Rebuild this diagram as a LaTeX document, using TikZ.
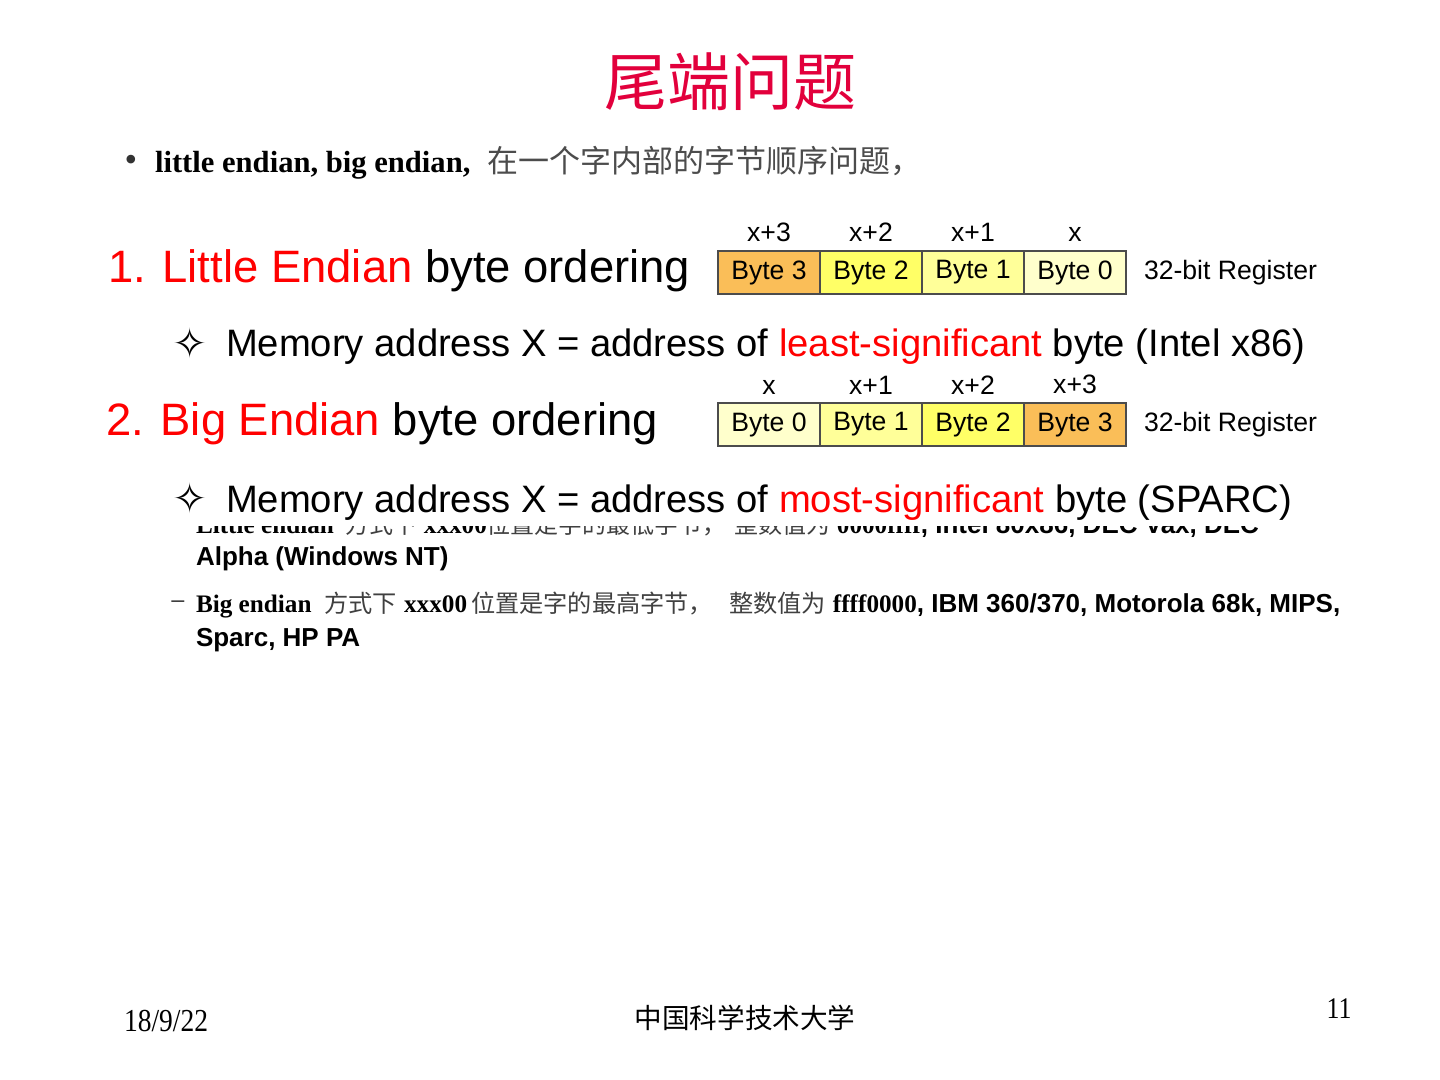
\documentclass[tikz,border=0pt]{standalone}
\usepackage{fontspec}
\setmainfont{Liberation Serif}
\newfontfamily\arialfont{Liberation Sans}
\newfontfamily\cjk{Noto Sans CJK SC}
\newfontfamily\symfont{DejaVu Sans}
\newfontfamily\footserif[FakeStretch=0.86]{Liberation Serif}
\usepackage{tikz}
\usetikzlibrary{positioning}

\definecolor{titlered}{RGB}{226,0,60}
\definecolor{slidered}{RGB}{255,0,0}
\definecolor{byteorange}{RGB}{250,190,88}
\definecolor{byteyellow}{RGB}{255,255,102}
\definecolor{bytelight}{RGB}{255,255,153}
\definecolor{bytepale}{RGB}{255,255,204}

\begin{document}
\begin{tikzpicture}[x=0.5pt, y=-0.5pt,
    every node/.style={inner sep=0pt, outer sep=0pt},
    cell/.style={draw=black!70, line width=0.8pt, minimum width=51pt, minimum height=21.5pt,
      font=\arialfont\fontsize{13.3}{16}\selectfont},
    addr/.style={font=\arialfont\fontsize{13.3}{16}\selectfont},
    heading/.style={anchor=base west, font=\arialfont\fontsize{22.7}{28}\selectfont},
    memline/.style={anchor=base west, font=\arialfont\fontsize{19.1}{23}\selectfont},
    star/.style={font=\symfont\fontsize{21}{24}\selectfont},
    subline/.style={anchor=base west, font=\arialfont\bfseries\fontsize{13}{15}\selectfont}]
  \useasboundingbox[fill=white] (0,0) rectangle (1440,1080);

  % Title and intro
  \node[font=\cjk\fontsize{31.5}{36}\selectfont, text=titlered] (title) at (730,82) {尾端问题};
  \node[font=\fontsize{18}{20}\selectfont, text=black!80] (dot) at (131,163) {\textbullet};
  \node[anchor=base west, font=\bfseries\fontsize{15.3}{18}\selectfont] (intro) at (155,173)
    {little endian, big endian,\hspace{8.5pt}{\cjk\mdseries\fontsize{15.5}{18}\selectfont\color{black!70}在一个字内部的字节顺序问题，}};

  % Little endian
  \node[heading] (little) at (108,283) {\textcolor{slidered}{1. Little Endian} byte ordering};
  \node[cell, fill=byteorange, anchor=north west] (l3) at (718,251) {Byte 3};
  \node[cell, fill=byteyellow, right=0pt of l3] (l2) {Byte 2};
  \node[cell, fill=bytelight, right=0pt of l2] (l1) {Byte 1};
  \node[cell, fill=bytepale, right=0pt of l1] (l0) {Byte 0};
  \node[addr, above=4.5pt of l3] (la3) {x+3};
  \node[addr, above=4.5pt of l2] (la2) {x+2};
  \node[addr, above=4.5pt of l1] (la1) {x+1};
  \node[addr, above=4.5pt of l0] (la0) {x};
  \node[addr, right=9pt of l0] (lreg) {32-bit Register};
  \node[star] (lstar) at (190,343) {✧};
  \node[memline] (lmem) at (226,357) {Memory address X = address of \textcolor{slidered}{least-significant} byte (Intel x86)};

  % Big endian
  \node[heading] (big) at (106,436) {\textcolor{slidered}{2. Big Endian} byte ordering};
  \node[cell, fill=bytepale, anchor=north west] (b0) at (718,403) {Byte 0};
  \node[cell, fill=bytelight, right=0pt of b0] (b1) {Byte 1};
  \node[cell, fill=byteyellow, right=0pt of b1] (b2) {Byte 2};
  \node[cell, fill=byteorange, right=0pt of b2] (b3) {Byte 3};
  \node[addr, above=4.5pt of b0] (ba0) {x};
  \node[addr, above=4.5pt of b1] (ba1) {x+1};
  \node[addr, above=4.5pt of b2] (ba2) {x+2};
  \node[addr, above=4.5pt of b3] (ba3) {x+3};
  \node[addr, right=9pt of b3] (breg) {32-bit Register};
  \node[star] (bstar) at (190,498) {✧};
  \node[memline] (bmem) at (226,512) {Memory address X = address of \textcolor{slidered}{most-significant} byte (SPARC)};

  % Sub-items (first one partly hidden)
  \begin{scope}
    \clip (0,526) rectangle (1440,545);
    \node[subline] (lnote) at (196,533)
      {{\rmfamily\fontsize{12.6}{15}\selectfont Little endian}\hspace{6pt}{\cjk\mdseries\fontsize{12}{15}\selectfont\color{black!75}方式下}\hspace{3pt}{\rmfamily\fontsize{12.6}{15}\selectfont xxx00}{\cjk\mdseries\fontsize{12}{15}\selectfont\color{black!75}位置是字的最低字节，\hspace{4pt}整数值为}\hspace{3pt}{\rmfamily\fontsize{12.6}{15}\selectfont 0000ffff}, Intel 80x86, DEC Vax, DEC};
  \end{scope}
  \node[subline] (lnote2) at (196,565) {Alpha (Windows NT)};
  \node[font=\fontsize{12.6}{15}\selectfont] (dash) at (178,604) {–};
  \node[subline] (bnote) at (196,612)
    {{\rmfamily\fontsize{12.6}{15}\selectfont Big endian}\hspace{6.5pt}{\cjk\mdseries\fontsize{12.1}{15}\selectfont\color{black!75}方式下}\hspace{3.5pt}{\rmfamily\fontsize{12.6}{15}\selectfont xxx00}\hspace{2pt}{\cjk\mdseries\fontsize{12.1}{15}\selectfont\color{black!75}位置是字的最高字节，\hspace{8pt}整数值为}\hspace{3.5pt}{\rmfamily\fontsize{12.6}{15}\selectfont ffff0000}, IBM 360/370, Motorola 68k, MIPS,};
  \node[subline] (bnote2) at (196,646) {Sparc, HP PA};

  % Footer
  \node[anchor=base west, font=\footserif\fontsize{16}{18}\selectfont] (date) at (124,1031) {18/9/22};
  \node[font=\cjk\fontsize{13.8}{16}\selectfont] (school) at (745,1018) {中国科学技术大学};
  \node[font=\footserif\fontsize{15}{18}\selectfont] (page) at (1339,1009) {11};
\end{tikzpicture}
\end{document}
